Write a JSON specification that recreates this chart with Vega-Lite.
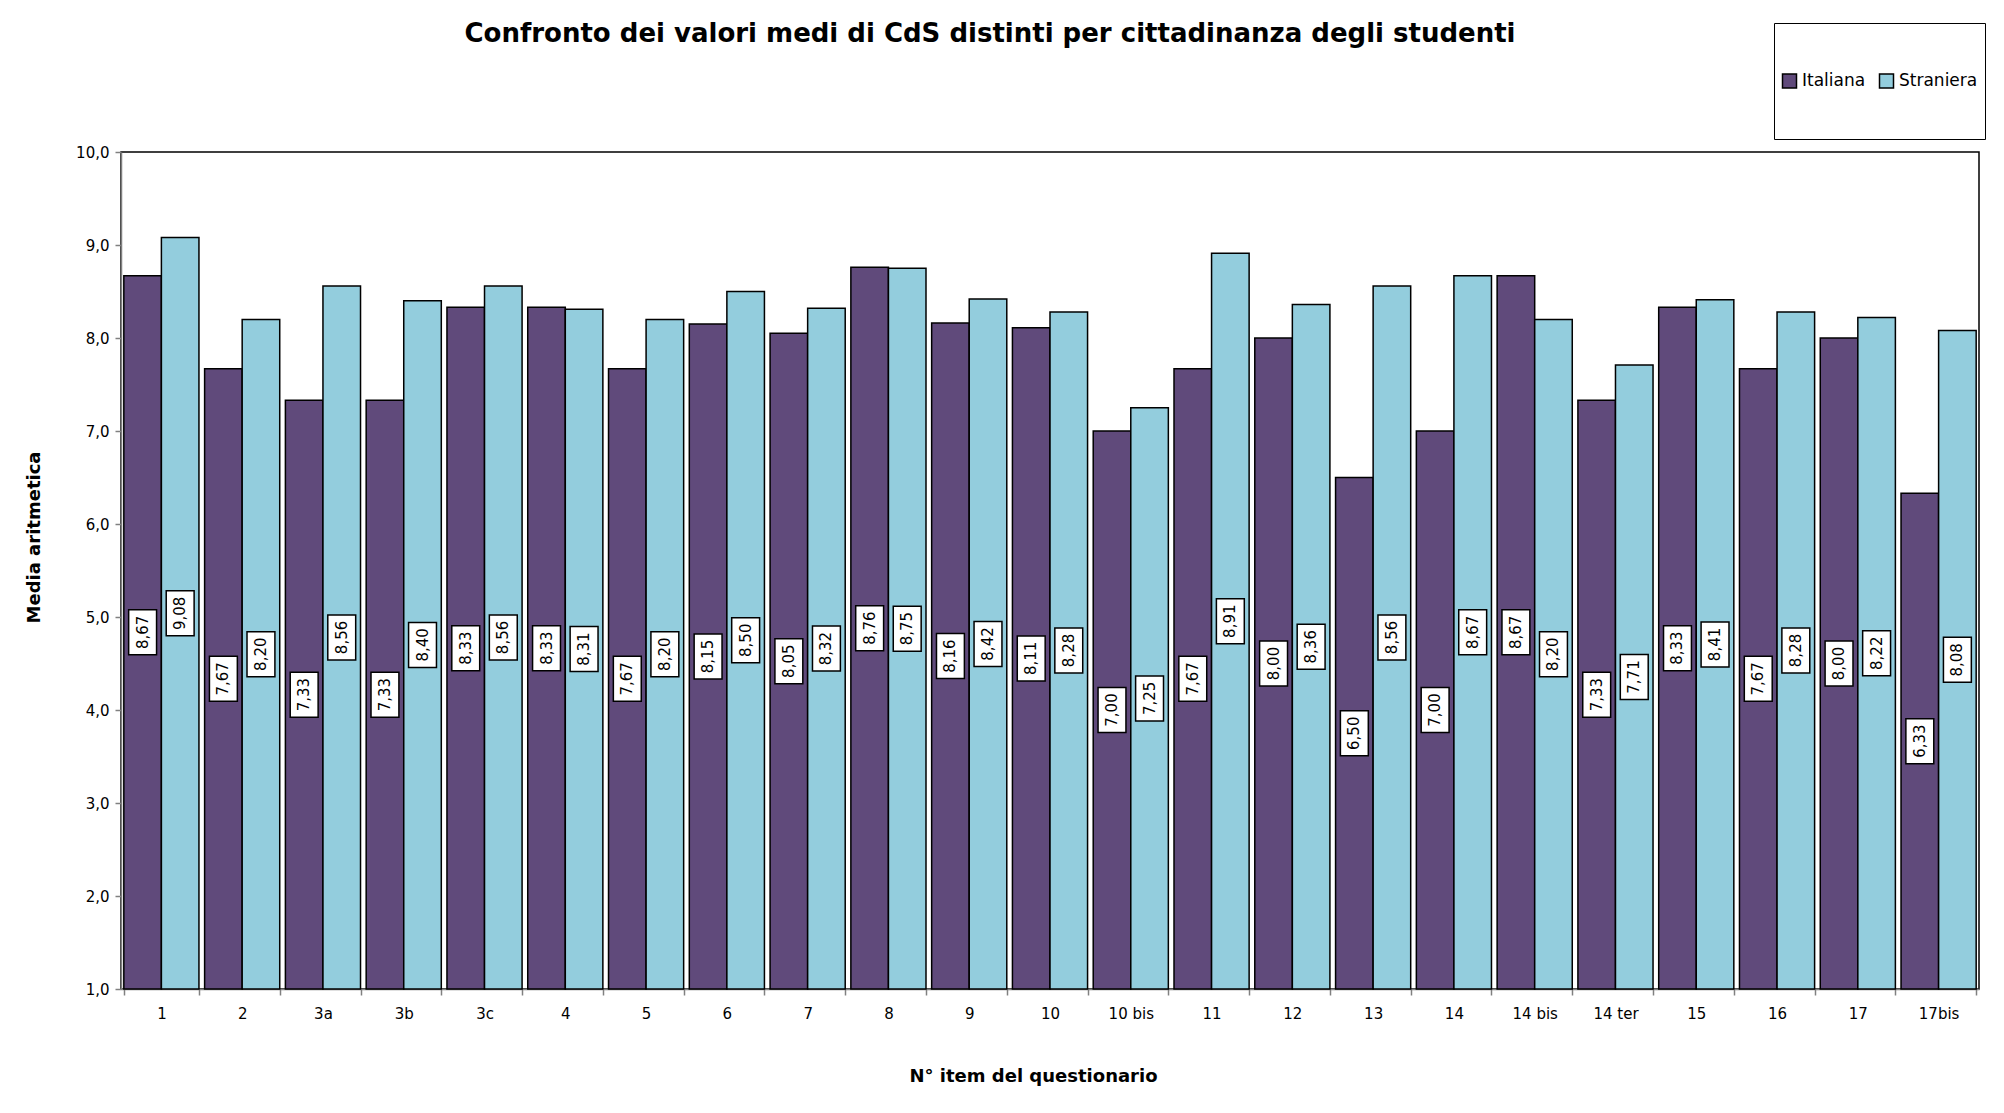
{
  "$schema": "https://vega.github.io/schema/vega-lite/v6.json",
  "autosize": {"type": "none"},
  "width": 1858,
  "height": 837,
  "padding": {"left": 121, "top": 152, "right": 25, "bottom": 124},
  "background": "white",
  "title": {
    "text": "Confronto dei valori medi di CdS distinti per cittadinanza degli studenti",
    "anchor": "middle",
    "frame": "group",
    "dx": -60,
    "dy": 24,
    "offset": 0,
    "fontSize": 26,
    "fontWeight": "bold",
    "font": "DejaVu Sans",
    "color": "black"
  },
  "data": {
    "values": [
      {"item": "1", "serie": "Italiana", "valore": 8.67},
      {"item": "1", "serie": "Straniera", "valore": 9.08},
      {"item": "2", "serie": "Italiana", "valore": 7.67},
      {"item": "2", "serie": "Straniera", "valore": 8.20},
      {"item": "3a", "serie": "Italiana", "valore": 7.33},
      {"item": "3a", "serie": "Straniera", "valore": 8.56},
      {"item": "3b", "serie": "Italiana", "valore": 7.33},
      {"item": "3b", "serie": "Straniera", "valore": 8.40},
      {"item": "3c", "serie": "Italiana", "valore": 8.33},
      {"item": "3c", "serie": "Straniera", "valore": 8.56},
      {"item": "4", "serie": "Italiana", "valore": 8.33},
      {"item": "4", "serie": "Straniera", "valore": 8.31},
      {"item": "5", "serie": "Italiana", "valore": 7.67},
      {"item": "5", "serie": "Straniera", "valore": 8.20},
      {"item": "6", "serie": "Italiana", "valore": 8.15},
      {"item": "6", "serie": "Straniera", "valore": 8.50},
      {"item": "7", "serie": "Italiana", "valore": 8.05},
      {"item": "7", "serie": "Straniera", "valore": 8.32},
      {"item": "8", "serie": "Italiana", "valore": 8.76},
      {"item": "8", "serie": "Straniera", "valore": 8.75},
      {"item": "9", "serie": "Italiana", "valore": 8.16},
      {"item": "9", "serie": "Straniera", "valore": 8.42},
      {"item": "10", "serie": "Italiana", "valore": 8.11},
      {"item": "10", "serie": "Straniera", "valore": 8.28},
      {"item": "10 bis", "serie": "Italiana", "valore": 7.00},
      {"item": "10 bis", "serie": "Straniera", "valore": 7.25},
      {"item": "11", "serie": "Italiana", "valore": 7.67},
      {"item": "11", "serie": "Straniera", "valore": 8.91},
      {"item": "12", "serie": "Italiana", "valore": 8.00},
      {"item": "12", "serie": "Straniera", "valore": 8.36},
      {"item": "13", "serie": "Italiana", "valore": 6.50},
      {"item": "13", "serie": "Straniera", "valore": 8.56},
      {"item": "14", "serie": "Italiana", "valore": 7.00},
      {"item": "14", "serie": "Straniera", "valore": 8.67},
      {"item": "14 bis", "serie": "Italiana", "valore": 8.67},
      {"item": "14 bis", "serie": "Straniera", "valore": 8.20},
      {"item": "14 ter", "serie": "Italiana", "valore": 7.33},
      {"item": "14 ter", "serie": "Straniera", "valore": 7.71},
      {"item": "15", "serie": "Italiana", "valore": 8.33},
      {"item": "15", "serie": "Straniera", "valore": 8.41},
      {"item": "16", "serie": "Italiana", "valore": 7.67},
      {"item": "16", "serie": "Straniera", "valore": 8.28},
      {"item": "17", "serie": "Italiana", "valore": 8.00},
      {"item": "17", "serie": "Straniera", "valore": 8.22},
      {"item": "17bis", "serie": "Italiana", "valore": 6.33},
      {"item": "17bis", "serie": "Straniera", "valore": 8.08}
    ]
  },
  "encoding": {
    "x": {
      "field": "item",
      "type": "nominal",
      "sort": null,
      "scale": {"paddingInner": 0.07, "paddingOuter": 0.035},
      "axis": {
        "title": "N° item del questionario",
        "labelAngle": 0,
        "tickBand": "extent",
        "tickSize": 6,
        "labelPadding": 11,
        "titlePadding": 46,
        "titleX": 912
      }
    },
    "xOffset": {
      "field": "serie",
      "type": "nominal",
      "scale": {"domain": ["Italiana", "Straniera"], "paddingInner": 0, "paddingOuter": 0}
    }
  },
  "layer": [
    {
      "mark": {"type": "bar", "stroke": "black", "strokeWidth": 1.5},
      "encoding": {
        "y": {
          "field": "valore",
          "type": "quantitative",
          "scale": {"domain": [1, 10], "nice": false, "zero": false},
          "axis": {
            "title": "Media aritmetica",
            "values": [1, 2, 3, 4, 5, 6, 7, 8, 9, 10],
            "format": ".1f",
            "grid": false,
            "tickSize": 6,
            "labelPadding": 6,
            "titlePadding": 32,
            "titleY": 385
          }
        },
        "y2": {"datum": 1},
        "color": {
          "field": "serie",
          "type": "nominal",
          "scale": {"domain": ["Italiana", "Straniera"], "range": ["#604A7B", "#93CDDD"]},
          "legend": {
            "title": null,
            "orient": "none",
            "legendX": 1653,
            "legendY": -129,
            "direction": "horizontal",
            "symbolType": "square",
            "symbolSize": 196,
            "symbolStrokeColor": "black",
            "symbolStrokeWidth": 1.5,
            "labelFontSize": 17,
            "labelFont": "DejaVu Sans",
            "labelColor": "black",
            "columnPadding": 12,
            "labelOffset": 4,
            "strokeColor": "black",
            "fillColor": "white",
            "padding": 7,
            "clipHeight": 102
          }
        }
      }
    },
    {
      "mark": {
        "type": "point",
        "shape": "M-0.62,-1L0.62,-1L0.62,1L-0.62,1Z",
        "size": 2025,
        "filled": true,
        "fill": "white",
        "stroke": "black",
        "strokeWidth": 1.5,
        "opacity": 1
      },
      "encoding": {
        "y": {
          "field": "valore",
          "type": "quantitative",
          "scale": {"domain": [1, 19], "nice": false, "zero": false},
          "axis": null
        }
      }
    },
    {
      "mark": {"type": "text", "angle": 270, "fontSize": 15, "font": "DejaVu Sans", "color": "black", "baseline": "middle", "align": "center"},
      "encoding": {
        "y": {
          "field": "valore",
          "type": "quantitative",
          "scale": {"domain": [1, 19], "nice": false, "zero": false},
          "axis": null
        },
        "text": {"field": "valore", "type": "quantitative", "format": ".2f"}
      }
    }
  ],
  "resolve": {"scale": {"y": "independent"}},
  "config": {
    "locale": {
      "number": {"decimal": ",", "thousands": ".", "grouping": [3], "currency": ["€", ""]}
    },
    "view": {"stroke": "black", "strokeWidth": 1.5},
    "axis": {
      "domainColor": "#808080",
      "domainWidth": 1.5,
      "tickColor": "#808080",
      "tickWidth": 1.5,
      "labelFont": "DejaVu Sans",
      "labelFontSize": 15,
      "labelColor": "black",
      "titleFont": "DejaVu Sans",
      "titleFontSize": 18,
      "titleFontWeight": "bold",
      "titleColor": "black"
    }
  }
}
